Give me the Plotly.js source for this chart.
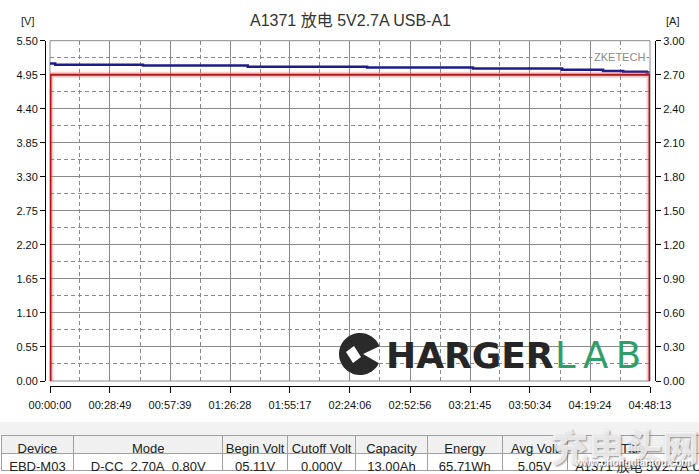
<!DOCTYPE html>
<html>
<head>
<meta charset="utf-8">
<script src="https://cdn.plot.ly/plotly-3.0.1.min.js"></script>
<style>html,body{margin:0;padding:0;background:#fff;}#chart{width:699px;height:474px;}</style>
</head>
<body>
<div id="chart"></div>
<script>
// ---- data ----
const timeTickLabels = ['00:00:00','00:28:49','00:57:39','01:26:28','01:55:17','02:24:06','02:52:56','03:21:45','03:50:34','04:19:24','04:48:13'];
const voltTime = [0, 150, 2680, 5700, 9140, 12190, 14760, 15940, 16520, 17200, 17280];
const voltValues = [5.13, 5.11, 5.10, 5.08, 5.065, 5.05, 5.03, 5.01, 5.00, 4.985, 4.985];
const currTime = [15, 15, 17280, 17280];
const currValues = [0, 2.70, 2.70, 0];
const tableHeaders = ['Device','Mode','Begin Volt','Cutoff Volt','Capacity','Energy','Avg Volt','Title'];
const tableRow = ['EBD-M03','D-CC  2.70A  0.80V','05.11V','0.000V','13.00Ah','65.71Wh','5.05V','A1371 放电 5V2.7A USB-A1'];
const chartTitle = 'A1371 放电 5V2.7A USB-A1';

// ---- helpers ----
const W = 699, H = 474;
const px = x => x / W;
const py = y => 1 - y / H;
const nb = s => s.replace(/ /g, '\u00a0');
const toSec = s => { const p = s.split(':').map(Number); return p[0]*3600 + p[1]*60 + p[2]; };
const tickVals = timeTickLabels.map(toSec);
const minorVals = [];
for (let i = 0; i < tickVals.length - 1; i++) minorVals.push((tickVals[i] + tickVals[i+1]) / 2);

const FONT = 'Liberation Sans, Arial, Noto Sans CJK SC, sans-serif';
const GRID = '#8a8a8a';

const traces = [
  {x: currTime, y: currValues, yaxis: 'y2', mode: 'lines', line: {color: 'rgba(240,110,110,0.35)', width: 6}, hoverinfo: 'skip', showlegend: false},
  {x: currTime, y: currValues, yaxis: 'y2', mode: 'lines', line: {color: '#b01818', width: 2}, showlegend: false},
  {x: voltTime, y: voltValues, mode: 'lines', line: {color: '#1c1c8c', width: 2.5, shape: 'hv'}, showlegend: false},
  {
    type: 'table',
    domain: {x: [px(1), 1], y: [0, py(435)]},
    columnwidth: [73, 149, 65, 68, 72, 75, 65, 132],
    header: {values: tableHeaders.map(nb), height: 18, fill: {color: '#f0f0f0'}, line: {color: '#a0a0a0', width: 1},
             font: {family: FONT, size: 13, color: '#222'}, align: 'center'},
    cells: {values: tableRow.map(v => [nb(v)]), height: 17, fill: {color: '#ffffff'}, line: {color: '#a0a0a0', width: 1},
            font: {family: FONT, size: 13, color: '#222'}, align: ['center','center','center','center','center','center','center','left']}
  }
];

// C logo polygon
const cx = 360, cy = 354, r = 21;
let pts = [[cx + 3, cy]];
for (let a = 22; a <= 338; a += 6) {
  const rad = a * Math.PI / 180;
  pts.push([cx + r * Math.cos(rad), cy - r * Math.sin(rad)]);
}
const cPath = 'M ' + pts.map(p => px(p[0]) + ',' + py(p[1])).join(' L ') + ' Z';
const plugPts = [[346, 352], [354, 346], [361, 357], [353, 363]];
const plugPath = 'M ' + plugPts.map(p => px(p[0]) + ',' + py(p[1])).join(' L ') + ' Z';

const layout = {
  width: W, height: H,
  margin: {l: 0, r: 0, t: 0, b: 0},
  paper_bgcolor: '#ffffff',
  plot_bgcolor: '#ffffff',
  showlegend: false,
  font: {family: FONT, size: 11, color: '#111'},
  xaxis: {
    domain: [px(50), px(650)], anchor: 'free', position: py(386),
    range: [0, tickVals[tickVals.length - 1]],
    tickmode: 'array', tickvals: tickVals, ticktext: timeTickLabels,
    showline: true, linecolor: '#000', linewidth: 1,
    ticks: 'outside', ticklen: 6, tickcolor: '#000', ticklabelstandoff: 3,
    showgrid: true, gridcolor: GRID, gridwidth: 1, zeroline: false,
    minor: {tickmode: 'array', tickvals: minorVals, showgrid: true, gridcolor: GRID, griddash: '4px,3px', ticks: ''},
    tickfont: {size: 11, color: '#111'}, fixedrange: true
  },
  yaxis: {
    domain: [py(381), py(40.7)], anchor: 'free', position: px(45),
    range: [0, 5.5], tick0: 0, dtick: 0.55, tickformat: '.2f',
    showline: true, linecolor: '#000', linewidth: 1,
    ticks: 'outside', ticklen: 5, tickcolor: '#000',
    showgrid: true, gridcolor: GRID, gridwidth: 1, zeroline: false,
    minor: {tick0: 0, dtick: 0.275, showgrid: true, gridcolor: GRID, griddash: '4px,3px', ticks: ''},
    tickfont: {size: 11, color: '#111'}, fixedrange: true
  },
  yaxis2: {
    overlaying: 'y', side: 'right', anchor: 'free', position: px(655),
    range: [0, 3], tick0: 0, dtick: 0.3, tickformat: '.2f',
    showline: true, linecolor: '#000', linewidth: 1,
    ticks: 'outside', ticklen: 5, tickcolor: '#000',
    showgrid: false, zeroline: false,
    tickfont: {size: 11, color: '#111'}, fixedrange: true
  },
  shapes: [
    {type: 'rect', xref: 'paper', yref: 'paper', x0: 0, x1: 1, y0: py(436), y1: py(422), fillcolor: '#f2f2f2', line: {width: 0}, layer: 'below'},
    {type: 'rect', xref: 'x domain', yref: 'y domain', x0: 0, x1: 1, y0: 0, y1: 1, line: {color: GRID, width: 1}, layer: 'below'},
    {type: 'path', xref: 'paper', yref: 'paper', path: cPath, fillcolor: '#2a2a2a', line: {width: 0}},
    {type: 'path', xref: 'paper', yref: 'paper', path: plugPath, fillcolor: '#ffffff', line: {width: 0}}
  ],
  annotations: [
    {text: chartTitle, xref: 'paper', yref: 'paper', x: px(350), y: py(20), xanchor: 'center', yanchor: 'middle', showarrow: false, font: {size: 16, color: '#333'}},
    {text: '[V]', xref: 'paper', yref: 'paper', x: px(27), y: py(21), xanchor: 'center', yanchor: 'middle', showarrow: false, font: {size: 11, color: '#222'}},
    {text: '[A]', xref: 'paper', yref: 'paper', x: px(672), y: py(21), xanchor: 'center', yanchor: 'middle', showarrow: false, font: {size: 11, color: '#222'}},
    {text: 'ZKETECH', xref: 'paper', yref: 'paper', x: px(619), y: py(57), xanchor: 'center', yanchor: 'middle', showarrow: false, font: {size: 11, color: '#8a8a8a'}, bgcolor: '#ffffff'},
    {text: '<b>HARGER</b>', xref: 'paper', yref: 'paper', x: px(384), y: py(355), xanchor: 'left', yanchor: 'middle', showarrow: false, font: {family: 'DejaVu Sans, sans-serif', size: 36, color: '#262626'}},
    {text: 'L\u2009A\u2009B', xref: 'paper', yref: 'paper', x: px(553), y: py(355), xanchor: 'left', yanchor: 'middle', showarrow: false, font: {family: 'DejaVu Sans, sans-serif', size: 37, color: '#2f9e6a'}},
    {text: '充电头网', xref: 'paper', yref: 'paper', x: px(625), y: py(446), xanchor: 'center', yanchor: 'middle', showarrow: false, font: {family: 'Noto Sans CJK SC, sans-serif', size: 37, color: 'rgba(255,255,255,0.8)', weight: 900, shadow: '1px 1px 2px rgba(80,80,80,0.8)'}},
    {text: '<b>www.chongdiantou.com</b>', xref: 'paper', yref: 'paper', x: px(632), y: py(462), xanchor: 'center', yanchor: 'middle', showarrow: false, font: {size: 10, color: 'rgba(255,255,255,0.9)', shadow: '1px 1px 1px rgba(80,80,80,0.8)'}}
  ]
};

Plotly.newPlot('chart', traces, layout, {displayModeBar: false, staticPlot: true});
</script>
</body>
</html>
